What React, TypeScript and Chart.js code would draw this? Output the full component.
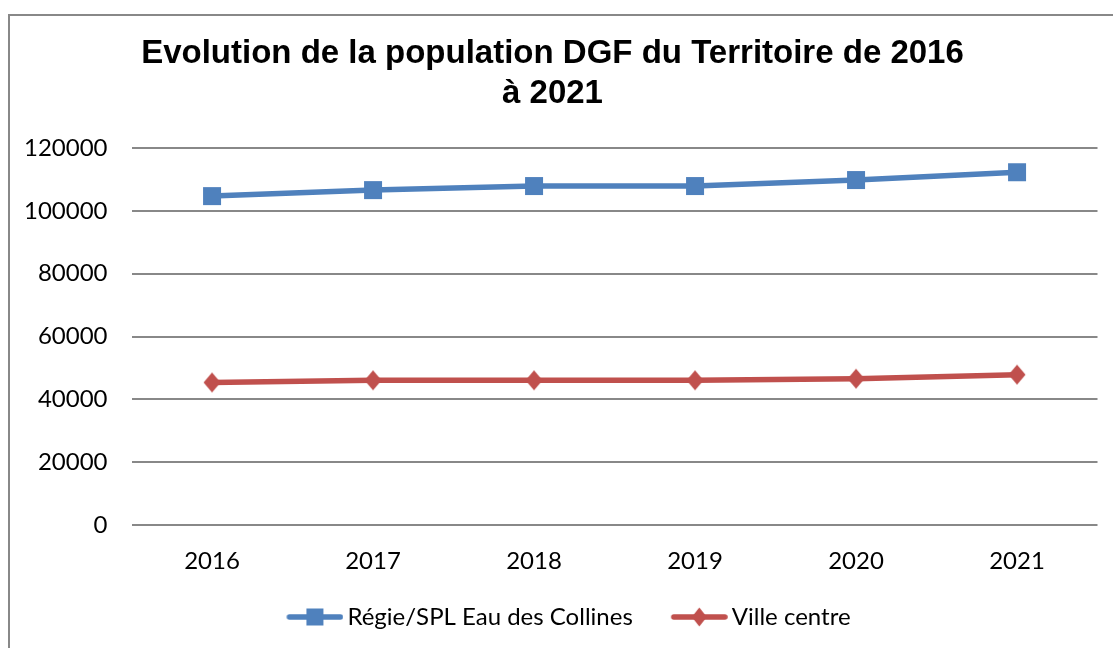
import React, { useEffect, useRef } from 'react';
import { Chart, registerables } from 'chart.js';

Chart.register(...registerables);

const years = ['2016', '2017', '2018', '2019', '2020', '2021'];
const regieValues = [104700, 106600, 107900, 107900, 109800, 112300];
const villeValues = [45400, 46100, 46100, 46100, 46600, 47900];
const seriesNames = ['Régie/SPL Eau des Collines', 'Ville centre'];
const titleLines = ['Evolution de la population DGF du Territoire de 2016', 'à 2021'];
const yMin = 0;
const yMax = 120000;
const yStep = 20000;

const BLUE = '#4F81BD';
const RED = '#C0504D';
const GRID = '#888888';
const TICK_FONT = 'Lato';
const TICK_SIZE = 24;

const TITLE_SHIFT = 3;
const LEGEND_SHIFT = 5;
const X_AXIS_EXTRA = -3;

function drawSquare(ctx: CanvasRenderingContext2D, cx: number, cy: number, w: number, h: number, color: string) {
  ctx.fillStyle = color;
  ctx.fillRect(cx - w / 2, cy - h / 2, w, h);
}

function drawDiamond(ctx: CanvasRenderingContext2D, cx: number, cy: number, w: number, h: number, color: string) {
  ctx.fillStyle = color;
  ctx.beginPath();
  ctx.moveTo(cx, cy - h / 2);
  ctx.lineTo(cx + w / 2, cy);
  ctx.lineTo(cx, cy + h / 2);
  ctx.lineTo(cx - w / 2, cy);
  ctx.closePath();
  ctx.fill();
}

function makeMarker(kind: 'square' | 'diamond', color: string) {
  const c = document.createElement('canvas');
  c.width = 22;
  c.height = 22;
  const ctx = c.getContext('2d')!;
  if (kind === 'square') drawSquare(ctx, 11, 11, 18, 18, color);
  else drawDiamond(ctx, 11, 11, 17, 20, color);
  return c;
}

const LEGEND_IMG_W = 93;
const LEGEND_BOX_W = 77;
const LEGEND_SYMBOL_W = 57;
function makeLegendSymbol(kind: 'square' | 'diamond', color: string) {
  const c = document.createElement('canvas');
  c.width = LEGEND_IMG_W;
  c.height = 22;
  const ctx = c.getContext('2d')!;
  const x0 = LEGEND_IMG_W - LEGEND_SYMBOL_W;
  ctx.strokeStyle = color;
  ctx.lineWidth = 5.5;
  ctx.lineCap = 'round';
  ctx.beginPath();
  ctx.moveTo(x0 + 3, 11);
  ctx.lineTo(LEGEND_IMG_W - 3, 11);
  ctx.stroke();
  const cx = x0 + LEGEND_SYMBOL_W / 2;
  if (kind === 'square') drawSquare(ctx, cx, 11, 17, 17, color);
  else drawDiamond(ctx, cx, 11, 15, 19, color);
  return c;
}

export default function App() {
  const ref = useRef<HTMLCanvasElement>(null);

  useEffect(() => {
    document.body.style.margin = '0';
    document.body.style.overflow = 'hidden';
    const canvas = ref.current!;
    const blueMarker = makeMarker('square', BLUE);
    const redMarker = makeMarker('diamond', RED);
    const blueLegend = makeLegendSymbol('square', BLUE);
    const redLegend = makeLegendSymbol('diamond', RED);

    const framePlugin = {
      id: 'frame',
      beforeDraw(chart: any) {
        const ctx = chart.ctx;
        ctx.save();
        ctx.fillStyle = '#ffffff';
        ctx.fillRect(0, 0, chart.width, chart.height);
        ctx.strokeStyle = GRID;
        ctx.lineWidth = 2;
        ctx.strokeRect(9, 15, 1300, 800);
        ctx.restore();
      },
    };

    const shiftPlugin = {
      id: 'shift',
      afterLayout(chart: any) {
        const t = chart.titleBlock;
        if (t) {
          t.left += TITLE_SHIFT;
          t.right += TITLE_SHIFT;
        }
        const l = chart.legend;
        if (l) {
          l.left += LEGEND_SHIFT;
          l.right += LEGEND_SHIFT;
        }
      },
    };

    const chart = new Chart(canvas, {
      type: 'line',
      data: {
        labels: years,
        datasets: [
          {
            label: seriesNames[0],
            data: regieValues,
            borderColor: BLUE,
            backgroundColor: BLUE,
            borderWidth: 5.5,
            pointStyle: blueMarker as any,
            pointRadius: 10,
            pointHoverRadius: 10,
            tension: 0,
          },
          {
            label: seriesNames[1],
            data: villeValues,
            borderColor: RED,
            backgroundColor: RED,
            borderWidth: 5.5,
            pointStyle: redMarker as any,
            pointRadius: 10,
            pointHoverRadius: 10,
            tension: 0,
          },
        ],
      },
      options: {
        responsive: false,
        animation: false,
        events: [],
        layout: { padding: { top: 0, left: 0, right: 14, bottom: 9 } },
        plugins: {
          title: {
            display: true,
            text: titleLines,
            color: '#000000',
            font: { family: 'Liberation Sans', weight: 'bold', size: 33, lineHeight: 40 / 33 },
            padding: { top: 34, bottom: 34 },
          },
          legend: {
            display: true,
            position: 'bottom',
            labels: {
              color: '#000000',
              font: { family: TICK_FONT, size: TICK_SIZE },
              usePointStyle: true,
              pointStyleWidth: LEGEND_BOX_W,
              padding: 10,
              generateLabels: () => [
                { text: seriesNames[0], pointStyle: blueLegend as any, fillStyle: BLUE, strokeStyle: BLUE, lineWidth: 0, hidden: false, datasetIndex: 0 },
                { text: seriesNames[1], pointStyle: redLegend as any, fillStyle: RED, strokeStyle: RED, lineWidth: 0, hidden: false, datasetIndex: 1 },
              ],
            },
          },
          tooltip: { enabled: false },
        },
        scales: {
          x: {
            offset: true,
            grid: { display: false, drawTicks: false },
            border: { display: false },
            ticks: { color: '#000000', font: { family: TICK_FONT, size: TICK_SIZE }, padding: 22, maxRotation: 0 },
            afterFit: (scale: any) => {
              scale.height += X_AXIS_EXTRA;
            },
          },
          y: {
            min: yMin,
            max: yMax,
            grid: { color: GRID, lineWidth: 2, drawTicks: false },
            border: { display: false },
            ticks: {
              stepSize: yStep,
              color: '#000000',
              font: { family: TICK_FONT, size: TICK_SIZE },
              padding: 24,
              callback: (v: any) => String(v),
            },
          },
        },
      },
      plugins: [framePlugin, shiftPlugin],
    } as any);

    return () => chart.destroy();
  }, []);

  return (
    <div style={{ position: 'fixed', left: 0, top: 0, width: 1113, height: 648, background: '#fff' }}>
      <canvas ref={ref} width={1113} height={648} style={{ display: 'block' }} />
    </div>
  );
}
